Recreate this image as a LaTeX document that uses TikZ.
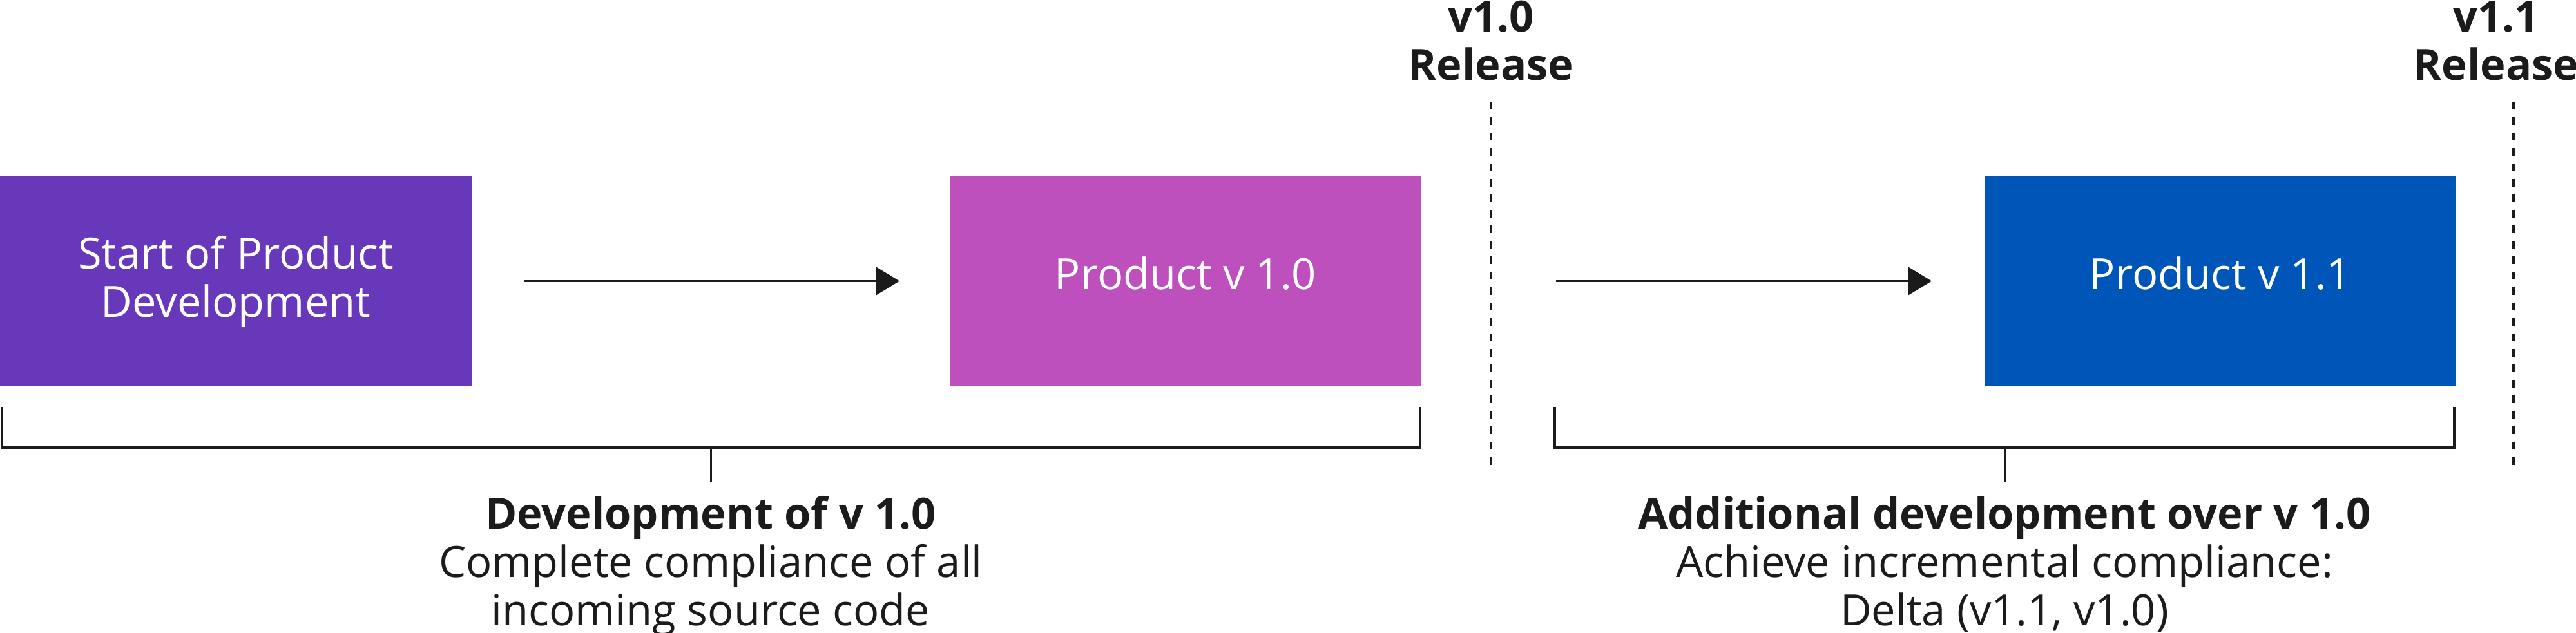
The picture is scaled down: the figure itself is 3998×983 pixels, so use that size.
\documentclass[tikz,border=0pt]{standalone}
\usepackage{fontspec}
\setmainfont{Open Sans}
\usetikzlibrary{arrows.meta}
\definecolor{ink}{HTML}{1C1B1B}
\definecolor{cA}{HTML}{6838BA}
\definecolor{cB}{HTML}{BE50BE}
\definecolor{cC}{HTML}{0055B8}
\tikzset{
  box/.style={rectangle, inner sep=0pt, minimum width=7.32cm, minimum height=3.26cm, draw=none},
  wtxt/.style={anchor=base, inner sep=0pt, text=white, font=\fontsize{19pt}{21pt}\selectfont},
  btxt/.style={anchor=base, inner sep=0pt, text=ink, font=\fontsize{19pt}{21pt}\selectfont},
  bold/.style={anchor=base, inner sep=0pt, text=ink, font=\fontsize{19pt}{21pt}\selectfont\bfseries},
  flow/.style={draw=ink, line width=0.033cm, -{Triangle[length=0.37cm, width=0.44cm]}},
  brace/.style={draw=ink, line width=0.045cm, miter limit=10},
  tick/.style={draw=ink, line width=0.03cm},
  rel/.style={draw=ink, line width=0.045cm, dash pattern=on 0.12cm off 0.12cm},
}
\begin{document}
\begin{tikzpicture}[x=0.01cm, y=-0.01cm]
\useasboundingbox (0,0) rectangle (3998,983);
% boxes
\node[box, fill=cA] (b1) at (366,436.5) {};
\node[box, fill=cB] (b2) at (1840,436.5) {};
\node[box, fill=cC] (b3) at (3446,436.5) {};
\node[wtxt] (t1a) at (366,418) {Start of Product};
\node[wtxt] (t1b) at (366,493) {Development};
\node[wtxt] (t2) at (1840,450) {Product v 1.0};
\node[wtxt] (t3) at (3446,450) {Product v 1.1};
% arrows
\draw[flow, shorten <=0.81cm, shorten >=0.77cm] (b1.east) -- (b2.west);
\coordinate (a2s) at (2415,436.5);
\draw[flow, shorten >=0.81cm] (a2s) -- (b3.west);
% release markers
\coordinate (r1t) at (2314,158);
\coordinate (r1b) at (2314,733);
\coordinate (r2t) at (3901,158);
\coordinate (r2b) at (3901,733);
\draw[rel] (r1t) -- (r1b);
\draw[rel] (r2t) -- (r2b);
\node[bold] (r1a) at (2314,50) {v1.0};
\node[bold] (r1c) at (2314,125) {Release};
\node[bold] (r2a) at (3874,50) {v1.1};
\node[bold] (r2c) at (3874,125) {Release};
% brackets
\coordinate (k1a) at (3,632);
\coordinate (k1b) at (2204,632);
\coordinate (k2a) at (2413,632);
\coordinate (k2b) at (3809,632);
\draw[brace] (k1a) -- (3,695) -- (2204,695) -- (k1b);
\draw[brace] (k2a) -- (2413,695) -- (3809,695) -- (k2b);
\coordinate (m1) at (1103,695);
\coordinate (m1e) at (1103,748);
\coordinate (m2) at (3111,695);
\coordinate (m2e) at (3111,748);
\draw[tick] (m1) -- (m1e);
\draw[tick] (m2) -- (m2e);
% labels
\node[bold] (l1a) at (1103,822) {Development of v 1.0};
\node[btxt] (l1b) at (1103,897) {Complete compliance of all};
\node[btxt] (l1c) at (1103,972) {incoming source code};
\node[bold] (l2a) at (3111,822) {Additional development over v 1.0};
\node[btxt] (l2b) at (3111,897) {Achieve incremental compliance:};
\node[btxt] (l2c) at (3111,972) {Delta (v1.1, v1.0)};
\end{tikzpicture}
\end{document}
